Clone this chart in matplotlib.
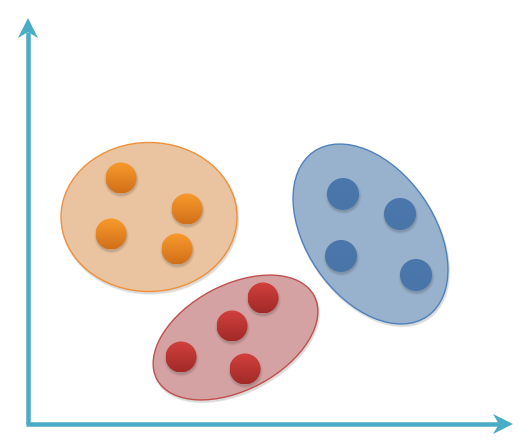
import numpy as np
import matplotlib
matplotlib.use("Agg")
import matplotlib.pyplot as plt
from matplotlib.patches import Ellipse, Circle, Polygon
from matplotlib.colors import LinearSegmentedColormap

# ---- data (pixel-space coordinates of the illustration) ----
orange_x = [121, 187, 111, 177]
orange_y = [178, 209, 234, 249]
red_x = [263, 232, 181, 245]
red_y = [298, 326, 357, 369]
blue_x = [343, 400, 341, 416]
blue_y = [194, 214, 256, 275]

# cluster ellipses: center x, center y, width, height, angle
cluster_names = ["orange", "red", "blue"]
ell_cx = [149, 235.5, 370.5]
ell_cy = [217, 337.5, 234]
ell_w = [176, 178, 200]
ell_h = [149, 105, 128]
ell_ang = [0, 28, -55.4]

W, H = 530, 440
fig = plt.figure(figsize=(W / 100, H / 100), dpi=100)
ax = fig.add_axes([0, 0, 1, 1])
ax.set_xlim(0, W)
ax.set_ylim(H, 0)
ax.set_aspect("auto")
ax.axis("off")

styles = {
    "orange": dict(fill="#eac4a0", edge="#f0903a", top="#f89a2c", bot="#d2701a", r=15.5),
    "red": dict(fill="#d4a2a3", edge="#c0504d", top="#d2403c", bot="#a12a28", r=15.5),
    "blue": dict(fill="#98b1cd", edge="#4f81bd", top="#4a77ac", bot="#4a75a9", r=16),
}
points = {"orange": (orange_x, orange_y), "red": (red_x, red_y), "blue": (blue_x, blue_y)}

for name, cx, cy, w, h, a in zip(cluster_names, ell_cx, ell_cy, ell_w, ell_h, ell_ang):
    st = styles[name]
    # soft shadow
    for k, al in [(3, 0.04), (2, 0.05), (1, 0.06)]:
        ax.add_patch(Ellipse((cx + 1, cy + 2), w + k, h + k, angle=-a,
                             facecolor="black", edgecolor="none", alpha=al, zorder=1))
    ax.add_patch(Ellipse((cx, cy), w, h, angle=-a, facecolor=st["fill"],
                         edgecolor=st["edge"], linewidth=1.0, zorder=2))
    xs, ys = points[name]
    cmap = LinearSegmentedColormap.from_list(name, [st["top"], st["bot"]])
    grad = np.linspace(0, 1, 64).reshape(-1, 1)
    r = st["r"]
    for x, y in zip(xs, ys):
        for k, al in [(2.0, 0.04), (1.0, 0.06), (0.0, 0.07)]:
            ax.add_patch(Circle((x + 0.5, y + 2), r + k, facecolor="black",
                                edgecolor="none", alpha=al, zorder=3))
        circ = Circle((x, y), r, facecolor="none", edgecolor="none", zorder=4)
        ax.add_patch(circ)
        im = ax.imshow(grad, cmap=cmap, extent=(x - r, x + r, y + r, y - r),
                       aspect="auto", zorder=4, interpolation="bilinear")
        im.set_clip_path(circ)

# ---- axes arrows ----
acol = "#4bacc6"
ox, oy = 28, 424
xend, ytop = 513, 18
lw = 4.5 * 72 / 100
ax.plot([ox, ox], [oy, ytop + 14], color=acol, lw=lw, solid_capstyle="butt", zorder=6)
ax.plot([ox - 2.2, xend - 14], [oy, oy], color=acol, lw=lw, solid_capstyle="butt", zorder=6)
# arrowheads (notched)
hl, hw, notch = 20, 10, 6
ax.add_patch(Polygon([(ox, ytop), (ox - hw, ytop + hl), (ox, ytop + hl - notch), (ox + hw, ytop + hl)],
                     closed=True, facecolor=acol, edgecolor="none", zorder=7))
ax.add_patch(Polygon([(xend, oy), (xend - hl, oy - hw), (xend - hl + notch, oy), (xend - hl, oy + hw)],
                     closed=True, facecolor=acol, edgecolor="none", zorder=7))

fig.savefig("out.png", dpi=100)
